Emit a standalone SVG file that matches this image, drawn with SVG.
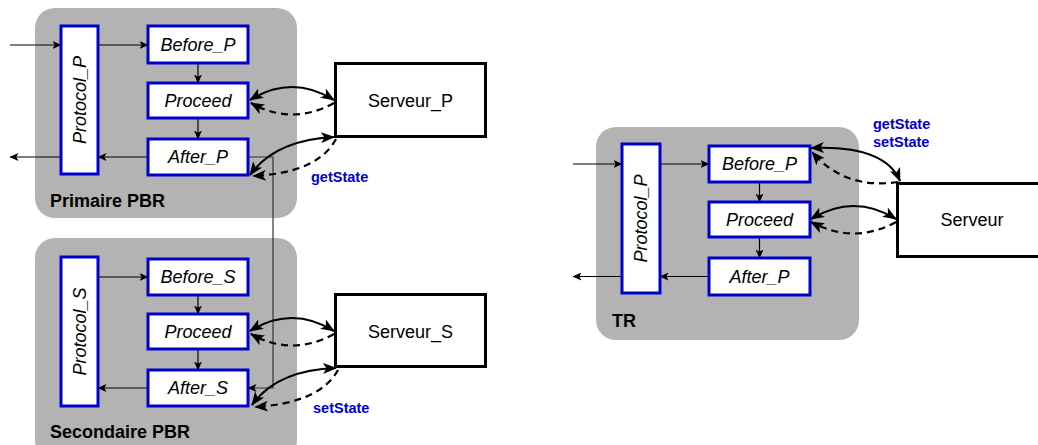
<svg xmlns="http://www.w3.org/2000/svg" width="1038" height="445" viewBox="0 0 1038 445">
<defs>
<marker id="ta" viewBox="0 0 9 8" markerWidth="9" markerHeight="8" refX="8.5" refY="4" orient="auto" markerUnits="userSpaceOnUse"><path d="M0,0 L9,4 L0,8 L2.2,4 z" fill="#000"/></marker>
<marker id="ba" viewBox="0 0 14 11" markerWidth="14" markerHeight="11" refX="13" refY="5.5" orient="auto-start-reverse" markerUnits="userSpaceOnUse"><path d="M0,0 L14,5.5 L0,11 L3.5,5.5 z" fill="#000"/></marker>
</defs>
<style>
.grp{fill:#b3b3b3;stroke:none}
.nd{fill:#fff;stroke:#0000cc;stroke-width:3}
.srv{fill:#fff;stroke:#000;stroke-width:3}
.t{font-family:"Liberation Sans",Arial,sans-serif;font-size:18px;font-style:italic;fill:#000;text-anchor:middle;dominant-baseline:central}
.ts{font-family:"Liberation Sans",Arial,sans-serif;font-size:18px;fill:#000;text-anchor:middle;dominant-baseline:central}
.gl{font-family:"Liberation Sans",Arial,sans-serif;font-size:18px;font-weight:bold;fill:#000}
.bl{font-family:"Liberation Sans",Arial,sans-serif;font-size:14.5px;font-weight:bold;fill:#0000cc}
.thin{fill:none;stroke:#000;stroke-width:1.2;marker-end:url(#ta)}
.solid{fill:none;stroke:#000;stroke-width:2.2;marker-start:url(#ba);marker-end:url(#ba)}
.dash{fill:none;stroke:#000;stroke-width:2.2;stroke-dasharray:7,5;marker-end:url(#ba)}
</style>
<g id="grp-primaire"><rect class="grp" x="35" y="8" width="262" height="210" rx="20"/><text class="gl" x="50" y="207">Primaire PBR</text></g>
<g id="grp-secondaire"><rect class="grp" x="35" y="238" width="262" height="222" rx="20"/><text class="gl" x="50" y="438">Secondaire PBR</text></g>
<g id="grp-tr"><rect class="grp" x="596" y="127" width="263" height="213" rx="20"/><text class="gl" x="612" y="327">TR</text></g>

<g id="connectors">
<path class="thin" d="M10,45 H61"/>
<path class="thin" d="M98,45 H148"/>
<path class="thin" d="M198,63 V83"/>
<path class="thin" d="M198,118 V139"/>
<path class="thin" d="M148,157 H98"/>
<path class="thin" d="M61,157 H10"/>
<path class="thin" style="stroke:#333" d="M248,157 H273 V388 H248"/>
<path class="thin" d="M98,277 H148"/>
<path class="thin" d="M198,295 V314"/>
<path class="thin" d="M198,349 V370"/>
<path class="thin" d="M148,388 H98"/>
<path class="thin" d="M573,164 H622"/>
<path class="thin" d="M660,164 H709"/>
<path class="thin" d="M759.5,182 V202"/>
<path class="thin" d="M759.5,237 V258"/>
<path class="thin" d="M709,276.5 H660"/>
<path class="thin" d="M622,276.5 H573"/>
<path class="solid" d="M250,100 Q292,74 334,100"/>
<path class="dash" d="M334,103 Q292,126 251,103"/>
<path class="solid" d="M250,175 Q275,140 334,137"/>
<path class="dash" d="M336,139 Q318,173 253,176"/>
<path class="solid" d="M250,331 Q292,305 334,331"/>
<path class="dash" d="M334,334 Q292,357 251,334"/>
<path class="solid" d="M252,405 Q277,370 336,368"/>
<path class="dash" d="M338,370 Q320,403 255,407"/>
<path class="solid" d="M811,148 Q885,145 900,181"/>
<path class="dash" d="M898,182 Q845,190 812,152"/>
<path class="solid" d="M811,219 Q854,193 896,219"/>
<path class="dash" d="M896,222 Q854,245 811,222"/>
</g>

<g id="protocol-p"><rect class="nd" x="61" y="26" width="37" height="148"/><text class="t" transform="translate(79.5,100) rotate(-90)">Protocol_P</text></g>
<g id="before-p"><rect class="nd" x="148" y="26" width="100" height="37"/><text class="t" x="198" y="44.5">Before_P</text></g>
<g id="proceed-p"><rect class="nd" x="148" y="83" width="100" height="35"/><text class="t" x="198" y="100.5">Proceed</text></g>
<g id="after-p"><rect class="nd" x="148" y="139" width="100" height="36"/><text class="t" x="198" y="157">After_P</text></g>
<g id="serveur-p"><rect class="srv" x="335.5" y="63.5" width="150" height="73"/><text class="ts" x="410.5" y="101">Serveur_P</text></g>
<text class="bl" x="311" y="182">getState</text>

<g id="protocol-s"><rect class="nd" x="61" y="257" width="37" height="149"/><text class="t" transform="translate(79.5,331.5) rotate(-90)">Protocol_S</text></g>
<g id="before-s"><rect class="nd" x="148" y="259" width="100" height="36"/><text class="t" x="198" y="277">Before_S</text></g>
<g id="proceed-s"><rect class="nd" x="148" y="314" width="100" height="35"/><text class="t" x="198" y="331.5">Proceed</text></g>
<g id="after-s"><rect class="nd" x="148" y="370" width="100" height="36"/><text class="t" x="198" y="388">After_S</text></g>
<g id="serveur-s"><rect class="srv" x="335.5" y="294.5" width="150" height="72"/><text class="ts" x="410.5" y="332">Serveur_S</text></g>
<text class="bl" x="313" y="413">setState</text>

<g id="protocol-tr"><rect class="nd" x="622" y="144" width="38" height="149"/><text class="t" transform="translate(641,218.5) rotate(-90)">Protocol_P</text></g>
<g id="before-tr"><rect class="nd" x="709" y="146" width="101" height="36"/><text class="t" x="759.5" y="164">Before_P</text></g>
<g id="proceed-tr"><rect class="nd" x="709" y="202" width="101" height="35"/><text class="t" x="759.5" y="219.5">Proceed</text></g>
<g id="after-tr"><rect class="nd" x="709" y="258" width="101" height="37"/><text class="t" x="759.5" y="276.5">After_P</text></g>
<g id="serveur-tr"><rect class="srv" x="897.5" y="183.5" width="152" height="73"/><text class="ts" x="972" y="220">Serveur</text></g>
<text class="bl" x="873" y="129">getState</text>
<text class="bl" x="873" y="147">setState</text>
</svg>
